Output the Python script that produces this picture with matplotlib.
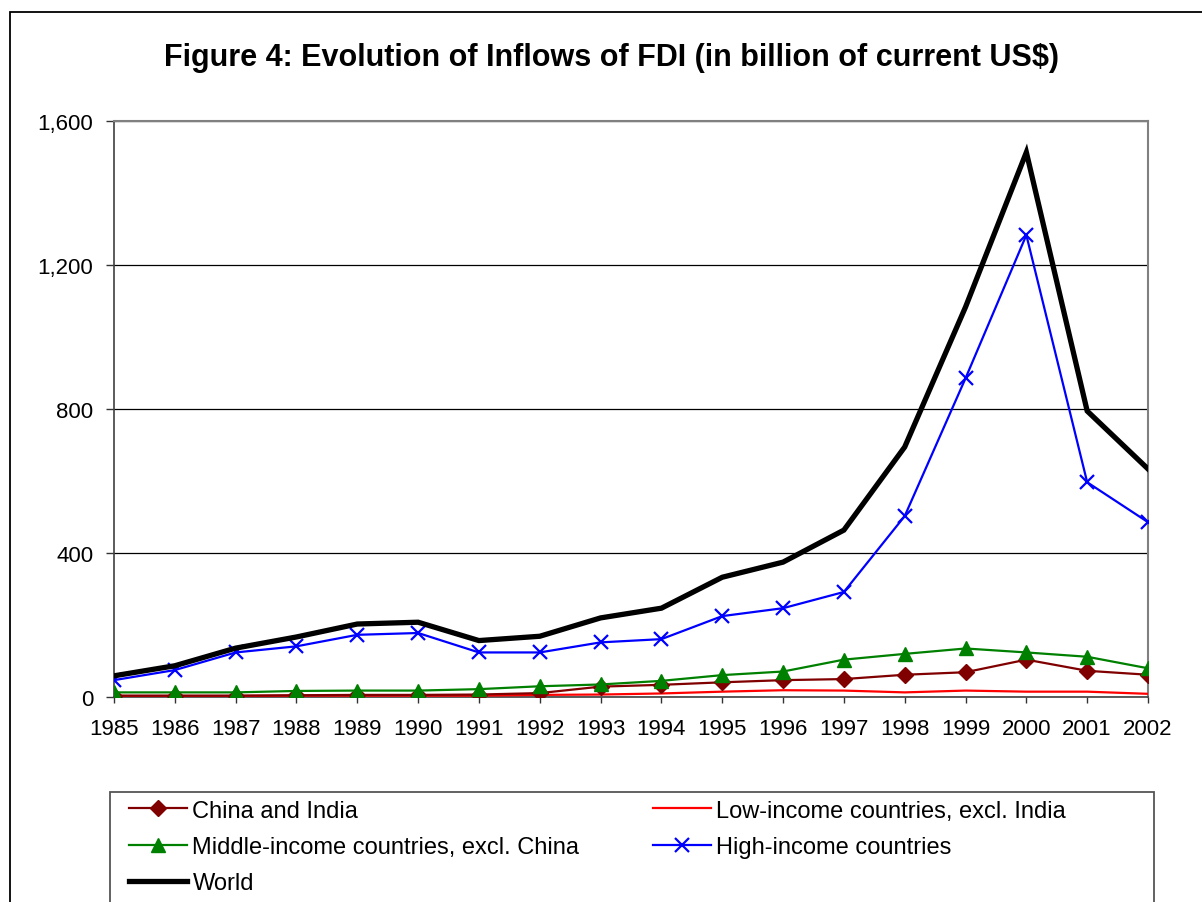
import matplotlib
matplotlib.use("Agg")
import matplotlib.pyplot as plt
from matplotlib.patches import Rectangle
from matplotlib.ticker import FuncFormatter
import numpy as np

years = [1985, 1986, 1987, 1988, 1989, 1990, 1991, 1992, 1993,
         1994, 1995, 1996, 1997, 1998, 1999, 2000, 2001, 2002]
china_india = [3, 3, 3, 4, 5, 5, 6, 10, 28, 33, 40, 46, 49, 61, 68, 103, 72, 61]
low_income = [2, 2, 2, 3, 3, 3, 3, 5, 6, 9, 14, 18, 17, 12, 17, 14, 14, 8]
middle_income = [12, 12, 12, 16, 17, 17, 21, 29, 34, 44, 60, 70, 103, 119, 134, 123, 111, 79]
high_income = [46, 74, 123, 140, 172, 177, 123, 123, 151, 160, 224, 246, 291, 502, 885, 1283, 596, 485]
world = [58, 86, 135, 166, 202, 207, 156, 168, 219, 246, 332, 374, 463, 694, 1083, 1513, 794, 633]

title = "Figure 4: Evolution of Inflows of FDI (in billion of current US$)"
y_ticks = [0, 400, 800, 1200, 1600]

plt.rcParams['font.family'] = ['Liberation Sans', 'DejaVu Sans']

W, H = 1202, 903
fig = plt.figure(figsize=(W / 100, H / 100), dpi=100)

def fx(px):
    return px / W

def fy(py):
    return 1 - py / H

ax = fig.add_axes([fx(114), fy(697.7), fx(1148) - fx(114), fy(122) - fy(697.7)])
x = np.arange(len(years))

l_ci, = ax.plot(x, china_india, color='#800000', lw=1.6, marker='D', ms=8,
                mec='#800000', mfc='#800000', label='China and India', zorder=4)
l_low, = ax.plot(x, low_income, color='#FF0000', lw=1.6,
                 label='Low-income countries, excl. India', zorder=3)
l_mid, = ax.plot(x, middle_income, color='#008000', lw=1.6, marker='^', ms=10,
                 mec='#008000', mfc='#008000', label='Middle-income countries, excl. China', zorder=5)
l_high, = ax.plot(x, high_income, color='#0000FF', lw=1.6, marker='x', ms=10, mew=1.6,
                  label='High-income countries', zorder=5)
l_world, = ax.plot(x, world, color='black', lw=3.8, label='World', zorder=6,
                   solid_joinstyle='miter')

ax.set_xlim(0, len(years) - 1)
ax.set_ylim(0, 1600)
ax.set_xticks(x)
ax.set_xticklabels([str(y) for y in years])
ax.set_yticks(y_ticks)
ax.yaxis.set_major_formatter(FuncFormatter(lambda v, p: f"{int(v):,}"))
ax.tick_params(axis='both', direction='out', width=1, colors='#333333',
               labelcolor='black', labelsize=16)
ax.tick_params(axis='x', length=4.5, pad=11)
ax.tick_params(axis='y', length=6, pad=9)
ax.grid(axis='y', color='black', lw=0.9)
ax.set_axisbelow(True)
for s in ['top', 'right']:
    ax.spines[s].set_color('#808080')
    ax.spines[s].set_linewidth(1.5)
for s in ['left', 'bottom']:
    ax.spines[s].set_color('#404040')
    ax.spines[s].set_linewidth(1.2)

fig.text(fx(611), fy(66), title, ha='center', va='baseline',
         fontsize=22, fontweight='bold')

# outer chart frame (extends beyond image)
fig.add_artist(Rectangle((fx(10), fy(1000)), fx(1300) - fx(10), fy(13) - fy(1000),
                         transform=fig.transFigure, fill=False, ec='black', lw=1.3))
# legend frame
fig.add_artist(Rectangle((fx(110), fy(1000)), fx(1154) - fx(110), fy(793) - fy(1000),
                         transform=fig.transFigure, fill=False, ec='#555555', lw=1.3))

handles = [l_ci, l_mid, l_world, l_low, l_high]
leg = fig.legend(handles=handles, labels=[h.get_label() for h in handles],
                 loc='upper left', bbox_to_anchor=(fx(124), fy(796)), ncol=2,
                 frameon=False, fontsize=17, handlelength=2.45, handletextpad=0.25,
                 labelspacing=0.6, columnspacing=3.1, borderaxespad=0, borderpad=0.2)

fig.savefig('out.png', dpi=100, facecolor='white')
